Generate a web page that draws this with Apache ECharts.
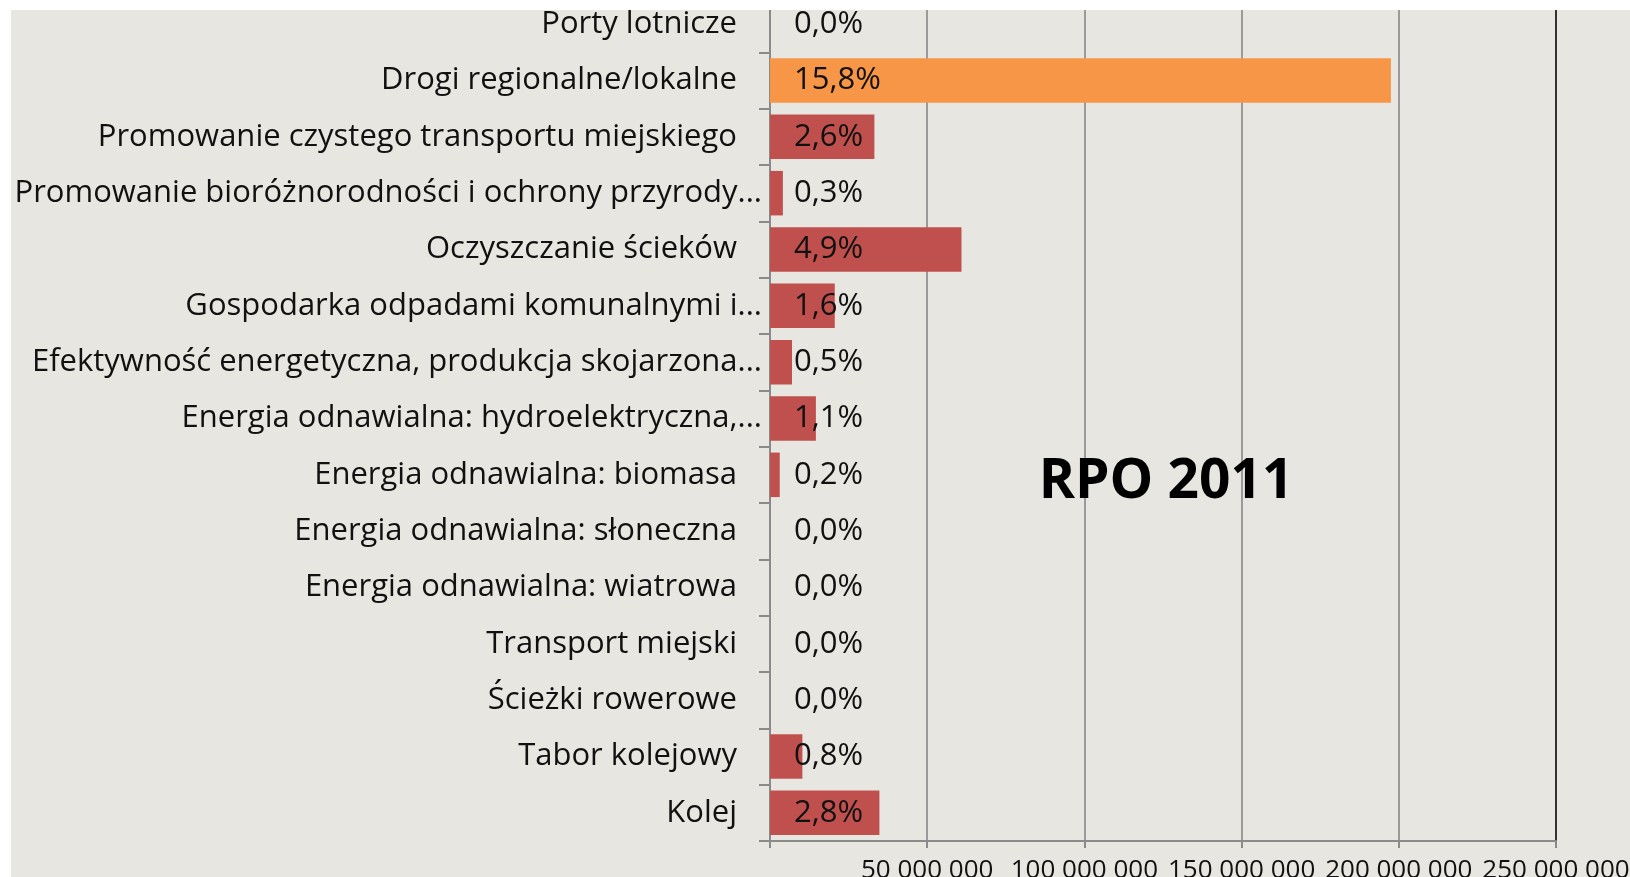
<!DOCTYPE html>
<html>
<head>
<meta charset="utf-8">
<script src="https://cdn.jsdelivr.net/npm/echarts@6/dist/echarts.min.js"></script>
<style>
    html, body { margin: 0; padding: 0; background: #ffffff; }
    #container { position: absolute; left: 11px; top: 10px; width: 1619px; height: 867px; }
</style>
</head>
<body>
<div id="container"></div>
<script>
// kategorie od góry do dołu
var categories = [
    'Porty lotnicze',
    'Drogi regionalne/lokalne',
    'Promowanie czystego transportu miejskiego',
    'Promowanie bioróżnorodności i ochrony przyrody...',
    'Oczyszczanie ścieków',
    'Gospodarka odpadami komunalnymi i...',
    'Efektywność energetyczna, produkcja skojarzona...',
    'Energia odnawialna: hydroelektryczna,...',
    'Energia odnawialna: biomasa',
    'Energia odnawialna: słoneczna',
    'Energia odnawialna: wiatrowa',
    'Transport miejski',
    'Ścieżki rowerowe',
    'Tabor kolejowy',
    'Kolej'
];
var amounts = [0, 197500000, 33200000, 4100000, 60900000, 20600000, 7000000, 14600000, 3100000, 0, 0, 0, 0, 10300000, 34800000];
var shares = ['0,0%', '15,8%', '2,6%', '0,3%', '4,9%', '1,6%', '0,5%', '1,1%', '0,2%', '0,0%', '0,0%', '0,0%', '0,0%', '0,8%', '2,8%'];
var highlighted = ['Drogi regionalne/lokalne'];
var axisMax = 250000000;
var axisStep = 50000000;
var chartTitle = 'RPO 2011';

var FONT = 'Open Sans';

var myChart = echarts.init(document.getElementById('container'));

function spaced(v) {
    return String(v).replace(/\B(?=(\d{3})+(?!\d))/g, ' ');
}

var option = {
    backgroundColor: '#e7e6e1',
    animation: false,
    title: {
        text: chartTitle,
        left: 1150,
        top: 440,
        textAlign: 'center',
        textStyle: {
            fontFamily: FONT,
            fontWeight: 'bold',
            fontSize: 55,
            color: '#000'
        }
    },
    grid: {
        left: 759,
        right: 74,
        top: -14,
        bottom: 36,
        outerBoundsMode: 'none'
    },
    xAxis: {
        type: 'value',
        min: 0,
        max: axisMax,
        interval: axisStep,
        axisLine: { show: true, lineStyle: { color: '#8a8a8a', width: 2 } },
        axisTick: { show: true, length: 7, lineStyle: { color: '#8a8a8a', width: 2 } },
        axisLabel: {
            margin: 17,
            fontFamily: FONT,
            fontSize: 26,
            color: '#111',
            formatter: function (v) { return v === 0 ? '' : spaced(v); }
        },
        splitLine: {
            show: true,
            lineStyle: {
                color: ['#9a9a9a', '#9a9a9a', '#9a9a9a', '#9a9a9a', '#9a9a9a', '#333333'],
                width: 2
            }
        }
    },
    yAxis: {
        type: 'category',
        data: categories,
        inverse: true,
        axisLine: { show: true, lineStyle: { color: '#8a8a8a', width: 2 } },
        axisTick: { show: true, length: 11, lineStyle: { color: '#8a8a8a', width: 2 } },
        axisLabel: {
            margin: 8,
            fontFamily: FONT,
            fontSize: 31,
            color: '#111',
            formatter: function (name) {
                return /\.\.\.$/.test(name) ? '{t|' + name + '}' : '{n|' + name + '}';
            },
            rich: {
                t: { fontFamily: FONT, fontSize: 31, color: '#111' },
                n: { fontFamily: FONT, fontSize: 31, color: '#111', padding: [0, 25, 0, 0] }
            }
        },
        splitLine: { show: false }
    },
    series: [{
        name: 'RPO 2011',
        type: 'bar',
        barCategoryGap: '21%',
        data: amounts.map(function (v, i) {
            return {
                value: v,
                itemStyle: { color: highlighted.indexOf(categories[i]) >= 0 ? '#f79646' : '#c0504d' }
            };
        }),
        label: {
            show: true,
            position: [24, '50%'],
            align: 'left',
            verticalAlign: 'middle',
            fontFamily: FONT,
            fontSize: 31,
            color: '#111',
            formatter: function (p) { return shares[p.dataIndex]; }
        }
    }]
};

myChart.setOption(option);
</script>
</body>
</html>
